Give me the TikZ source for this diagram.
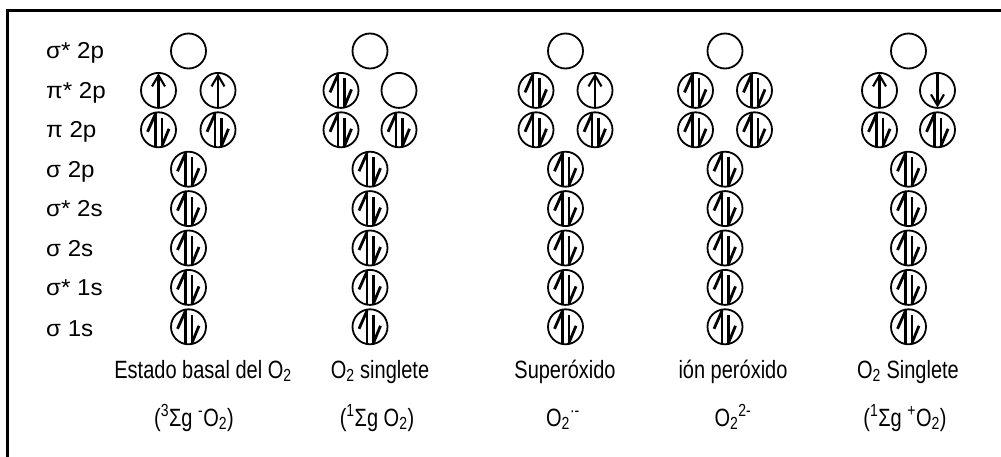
\documentclass[tikz,border=0pt]{standalone}
\usepackage{fontspec}
\setmainfont{Liberation Sans}
\newfontfamily\lblfont[FakeStretch=1.05]{Liberation Sans}
\newfontfamily\capfont[FakeStretch=0.8]{Liberation Sans}
\tikzset{
  orb/.style={circle, draw, line width=1.8pt, minimum size=35pt, inner sep=0pt},
  spin/.style={line width=2.1pt},
  pspin/.style={line width=2.8pt},
  emptyorb/.style={orb},
  uporb/.style={orb, path picture={
    \coordinate (pc) at (path picture bounding box.center);
    \draw[spin] ([shift={(0pt,-19pt)}]pc) -- ([shift={(0pt,15pt)}]pc);
    \draw[spin, line join=miter] ([shift={(-6.5pt,4pt)}]pc) -- ([shift={(0pt,15pt)}]pc) -- ([shift={(6.5pt,4pt)}]pc);}},
  downorb/.style={orb, path picture={
    \coordinate (pc) at (path picture bounding box.center);
    \draw[spin] ([shift={(0pt,19pt)}]pc) -- ([shift={(0pt,-15pt)}]pc);
    \draw[spin, line join=miter] ([shift={(-6.5pt,-4pt)}]pc) -- ([shift={(0pt,-15pt)}]pc) -- ([shift={(6.5pt,-4pt)}]pc);}},
  pairorb/.style={orb, path picture={
    \coordinate (pc) at (path picture bounding box.center);
    \draw[pspin] ([shift={(-3pt,20pt)}]pc) -- ([shift={(-3pt,-20pt)}]pc);
    \draw[pspin] ([shift={(-3pt,16pt)}]pc) -- ([shift={(-11pt,-2pt)}]pc);
    \draw[pspin] ([shift={(3.5pt,12pt)}]pc) -- ([shift={(3.5pt,-20pt)}]pc);
    \draw[pspin] ([shift={(3.5pt,-16pt)}]pc) -- ([shift={(10.5pt,1pt)}]pc);}},
  rowlbl/.style={anchor=base west, inner sep=0pt, font=\lblfont\fontsize{23}{27}\selectfont},
  caplbl/.style={anchor=base, inner sep=0pt, font=\capfont\fontsize{25}{29}\selectfont}
}
\begin{document}
\begin{tikzpicture}[x=1pt,y=1pt]
\useasboundingbox (0,0) rectangle (1001,-457);
\draw[line width=2.2pt] (7.5,-457) -- (7.5,-10.5) -- (1001,-10.5);
% row labels
\node[rowlbl] (l1) at (46,-59) {σ* 2p};
\node[rowlbl] (l2) at (46,-98.4) {π* 2p};
\node[rowlbl] (l3) at (46,-137.8) {π 2p};
\node[rowlbl] (l4) at (46,-177.2) {σ 2p};
\node[rowlbl] (l5) at (46,-216.6) {σ* 2s};
\node[rowlbl] (l6) at (46,-256) {σ 2s};
\node[rowlbl] (l7) at (46,-295.4) {σ* 1s};
\node[rowlbl] (l8) at (46,-336) {σ 1s};
% top rows
\node[emptyorb] (c1r1) at (188.5,-51) {};
\node[uporb] (c1r2a) at (158.5,-90.4) {};
\node[uporb] (c1r2b) at (218,-90.4) {};
\node[pairorb] (c1r3a) at (158.5,-129.8) {};
\node[pairorb] (c1r3b) at (218,-129.8) {};
\node[emptyorb] (c2r1) at (370,-51) {};
\node[pairorb] (c2r2a) at (341,-90.4) {};
\node[emptyorb] (c2r2b) at (399,-90.4) {};
\node[pairorb] (c2r3a) at (341,-129.8) {};
\node[pairorb] (c2r3b) at (399,-129.8) {};
\node[emptyorb] (c3r1) at (565.5,-51) {};
\node[pairorb] (c3r2a) at (536,-90.4) {};
\node[uporb] (c3r2b) at (595,-90.4) {};
\node[pairorb] (c3r3a) at (536,-129.8) {};
\node[pairorb] (c3r3b) at (595,-129.8) {};
\node[emptyorb] (c4r1) at (725,-51) {};
\node[pairorb] (c4r2a) at (695.5,-90.4) {};
\node[pairorb] (c4r2b) at (754.5,-90.4) {};
\node[pairorb] (c4r3a) at (695.5,-129.8) {};
\node[pairorb] (c4r3b) at (754.5,-129.8) {};
\node[emptyorb] (c5r1) at (908.5,-51) {};
\node[uporb] (c5r2a) at (879.5,-90.4) {};
\node[downorb] (c5r2b) at (937.5,-90.4) {};
\node[pairorb] (c5r3a) at (879.5,-129.8) {};
\node[pairorb] (c5r3b) at (937.5,-129.8) {};
% lower rows
\foreach \c/\x in {1/188.5,2/370,3/565.5,4/725,5/908.5}
  \foreach \r/\y in {4/169.2,5/208.6,6/248,7/287.4,8/326.8}
    \node[pairorb] (c\c r\r) at (\x,-\y) {};
% captions
\node[caplbl] (t1) at (203,-378) {Estado basal del O\textsubscript{2}};
\node[caplbl] (t2) at (380,-378) {O\textsubscript{2} singlete};
\node[caplbl] (t3) at (565,-378) {Superóxido};
\node[caplbl] (t4) at (733,-378) {ión peróxido};
\node[caplbl] (t5) at (908,-378) {O\textsubscript{2} Singlete};
\node[caplbl] (s1) at (194,-426) {(\textsuperscript{3}Σg \textsuperscript{-}O\textsubscript{2})};
\node[caplbl] (s2) at (377,-426) {(\textsuperscript{1}Σg O\textsubscript{2})};
\node[caplbl] (s3) at (563,-426) {O\textsubscript{2}\textsuperscript{·-}};
\node[caplbl] (s4) at (733,-426) {O\textsubscript{2}\textsuperscript{2-}};
\node[caplbl] (s5) at (905,-426) {(\textsuperscript{1}Σg \textsuperscript{+}O\textsubscript{2})};
\end{tikzpicture}
\end{document}
